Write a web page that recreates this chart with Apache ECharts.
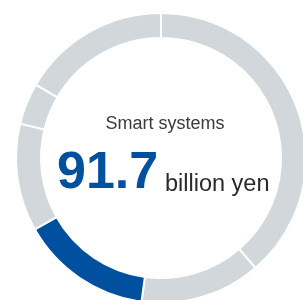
<!DOCTYPE html>
<html>
<head>
<meta charset="utf-8">
<script src="https://cdn.jsdelivr.net/npm/echarts@6/dist/echarts.min.js"></script>
<style>
  html, body { margin: 0; padding: 0; background: #fff; }
  #chart { width: 303px; height: 300px; }
</style>
</head>
<body>
<div id="chart"></div>
<script>
// segments clockwise from 12 o'clock (billion yen, estimated from arc lengths)
var segNames = ['s1', 's2', 'Smart systems', 's4', 's5', 's6'];
var segValues = [242, 84, 91.7, 75, 29, 103.5];
var highlight = 'Smart systems';
var centerLabel = 'Smart systems';
var bigValue = '91.7';
var unitLabel = 'billion yen';

var font = '"Liberation Sans", Arial, Helvetica, sans-serif';

var chart = echarts.init(document.getElementById('chart'));
var option = {
    animation: false,
    series: [
        {
            type: 'pie',
            center: [161, 158],
            radius: [120, 145],
            startAngle: 90,
            clockwise: true,
            silent: true,
            label: { show: false },
            labelLine: { show: false },
            itemStyle: { borderColor: '#ffffff', borderWidth: 2 },
            data: segNames.map(function (n, i) {
                return {
                    name: n,
                    value: segValues[i],
                    itemStyle: { color: n === highlight ? '#0050a0' : '#d1d7db' }
                };
            })
        }
    ],
    graphic: [
        {
            type: 'text',
            style: { text: centerLabel, x: 165, y: 124, align: 'center', verticalAlign: 'middle', font: '18px ' + font, fill: '#3a3a3a' }
        },
        {
            type: 'text',
            style: { text: bigValue, x: 57, y: 174, align: 'left', verticalAlign: 'middle', font: 'bold 52px ' + font, fill: '#0050a0' }
        },
        {
            type: 'text',
            style: { text: unitLabel, x: 165, y: 185, align: 'left', verticalAlign: 'middle', font: '23.5px ' + font, fill: '#2a2a2a' }
        }
    ]
};
chart.setOption(option);
</script>
</body>
</html>
